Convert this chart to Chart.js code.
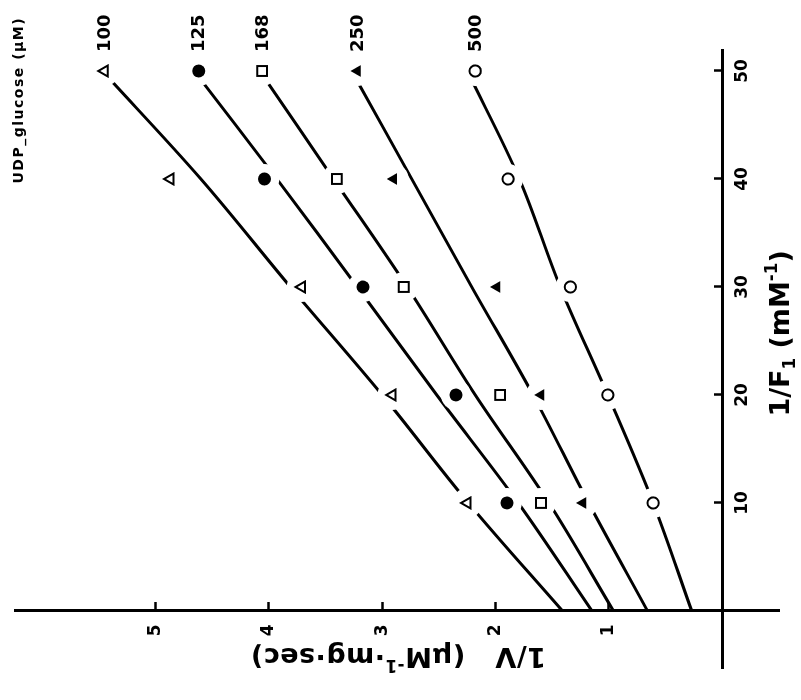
<!DOCTYPE html>
<html>
<head>
<meta charset="utf-8">
<script src="https://cdn.jsdelivr.net/npm/chart.js@4/dist/chart.umd.min.js"></script>
<style>
  html, body { margin: 0; padding: 0; background: #fff; overflow: hidden; width: 801px; height: 700px; }
  /* the plot is laid out upright and then turned a quarter turn counter-clockwise */
  #frame { position: absolute; left: 0; top: 0; width: 700px; height: 801px;
           transform-origin: 0 0; transform: translate(0, 700px) rotate(-90deg); }
  canvas { display: block; }
</style>
</head>
<body>
<div id="frame"><canvas id="c" width="700" height="801"></canvas></div>
<script>
// 1/F1 (mM^-1) at which the rates were measured
const invF = [10, 20, 30, 40, 50];
// 1/F1 values at which the drawn curves are read
const curveF = [0, 10, 20, 30, 40, 50];
// UDP-glucose concentrations (uM), one series each
const udpGlucose = ['100', '125', '168', '250', '500'];

// measured 1/V (uM^-1 . mg . sec)
const meas100 = [2.25, 2.91, 3.71, 4.87, 5.45];
const meas125 = [1.90, 2.35, 3.17, 4.04, 4.62];
const meas168 = [1.60, 1.96, 2.81, 3.40, 4.06];
const meas250 = [1.23, 1.60, 1.99, 2.90, 3.22];
const meas500 = [0.61, 1.01, 1.34, 1.89, 2.18];

// drawn curves, 1/V at curveF
const curve100 = [1.41, 2.24, 3.00, 3.81, 4.60, 5.47];
const curve125 = [1.15, 1.80, 2.52, 3.22, 3.93, 4.66];
const curve168 = [0.96, 1.53, 2.18, 2.78, 3.43, 4.08];
const curve250 = [0.66, 1.18, 1.67, 2.21, 2.74, 3.27];
const curve500 = [0.27, 0.61, 1.01, 1.43, 1.79, 2.25];

// axis ticks
const xTicks = [10, 20, 30, 40, 50];
const yTicks = [1, 2, 3, 4, 5];

const FONT = '"DejaVu Sans", "Liberation Sans", Arial, sans-serif';
const INK = '#000';

const measured = [meas100, meas125, meas168, meas250, meas500];
const curves = [curve100, curve125, curve168, curve250, curve500];
const markers = [
  { style: 'triangle', radius: 6.3, fill: '#fff', border: 2 },
  { style: 'circle',   radius: 6.5, fill: INK,    border: 0 },
  { style: 'rect',     radius: 7,   fill: '#fff', border: 2 },
  { style: 'triangle', radius: 6.8, fill: INK,    border: 0 },
  { style: 'circle',   radius: 5.6, fill: '#fff', border: 2 }
];

const pts = (xs, ys) => xs.map((x, i) => ({ x: x, y: ys[i] }));

const datasets = [];
curves.forEach((c) => {
  datasets.push({
    data: pts(curveF, c), showLine: true, borderColor: INK, borderWidth: 3,
    pointRadius: 0, tension: 0.35, order: 3
  });
});
// white clearance so each curve breaks around the plotted symbols
measured.forEach((m) => {
  datasets.push({
    data: pts(invF, m), showLine: false, pointRadius: 15, pointBorderWidth: 0,
    pointBackgroundColor: '#fff', order: 2
  });
});
measured.forEach((m, i) => {
  const mk = markers[i];
  datasets.push({
    data: pts(invF, m), showLine: false, pointStyle: mk.style, pointRadius: mk.radius,
    pointBackgroundColor: mk.fill, pointBorderColor: INK, pointBorderWidth: mk.border, order: 1
  });
});

// draws text runs with subscript / superscript parts
function richText(ctx, runs, size, spacing, x, y, angle) {
  const font = (s) => 'bold ' + s + 'px ' + FONT;
  ctx.save();
  ctx.letterSpacing = spacing + 'px';
  let total = 0;
  runs.forEach((r) => {
    ctx.font = font(r.k === 'n' ? size : size * 0.62);
    r.w = ctx.measureText(r.t).width;
    total += r.w;
  });
  ctx.translate(x, y);
  ctx.rotate(angle || 0);
  ctx.fillStyle = INK;
  ctx.textBaseline = 'alphabetic';
  let cx = -total / 2;
  runs.forEach((r) => {
    ctx.font = font(r.k === 'n' ? size : size * 0.62);
    const dy = r.k === 'sub' ? size * 0.22 : (r.k === 'sup' ? -size * 0.42 : 0);
    ctx.fillText(r.t, cx, size * 0.36 + dy);
    cx += r.w;
  });
  ctx.restore();
}

const annotations = {
  id: 'annotations',
  afterDatasetsDraw(chart) {
    const ctx = chart.ctx;
    const xs = chart.scales.x, ys = chart.scales.y;
    // concentration next to the last symbol of each series
    ctx.save();
    ctx.fillStyle = INK;
    ctx.font = 'bold 18px ' + FONT;
    ctx.textAlign = 'left';
    ctx.textBaseline = 'middle';
    udpGlucose.forEach((lab, i) => {
      const m = measured[i];
      ctx.fillText(lab, xs.getPixelForValue(invF[invF.length - 1]) + 19, ys.getPixelForValue(m[m.length - 1]) + 1);
    });
    ctx.font = 'bold 14px ' + FONT;
    ctx.letterSpacing = '1.5px';
    ctx.textAlign = 'center';
    ctx.fillText('UDP_glucose (\u03bcM)', xs.getPixelForValue(47.3), ys.getPixelForValue(6.2));
    ctx.restore();

    // axis titles
    richText(ctx, [{ t: '1/F', k: 'n' }, { t: '1', k: 'sub' }, { t: ' (mM', k: 'n' }, { t: '-1', k: 'sup' }, { t: ')', k: 'n' }],
      27, 0, xs.getPixelForValue(25.7), ys.getPixelForValue(-0.5), 0);
    richText(ctx, [{ t: '1/V   (\u03bcM', k: 'n' }, { t: '-1', k: 'sup' }, { t: '\u00b7mg\u00b7sec)', k: 'n' }],
      27, 0.5, xs.getPixelForValue(-4.35), ys.getPixelForValue(2.86), -Math.PI / 2);
  }
};

new Chart(document.getElementById('c'), {
  type: 'line',
  data: { datasets: datasets },
  plugins: [annotations],
  options: {
    responsive: false,
    devicePixelRatio: 1,
    animation: false,
    events: [],
    layout: { padding: { left: 32.9, right: 49.4, top: 10.5, bottom: 22 } },
    plugins: { legend: { display: false }, tooltip: { enabled: false } },
    scales: {
      x: {
        type: 'linear', min: -5.2, max: 52,
        position: { y: 0 },
        afterBuildTicks: (s) => { s.ticks = xTicks.map((v) => ({ value: v })); },
        border: { color: INK, width: 3 },
        grid: { drawOnChartArea: false, tickLength: -10, tickWidth: 2.5, color: INK },
        ticks: { color: INK, padding: 20, maxRotation: 0, font: { family: FONT, size: 17, weight: 'bold' } }
      },
      y: {
        type: 'linear', min: -0.5, max: 6.24,
        position: { x: 0 },
        afterBuildTicks: (s) => { s.ticks = yTicks.map((v) => ({ value: v })); },
        border: { color: INK, width: 3 },
        grid: { drawOnChartArea: false, tickLength: -10, tickWidth: 2.5, color: INK },
        ticks: { display: false }
      },
      // the 1/V tick numbers, set a little away from the axis line
      yLabels: {
        type: 'linear', min: -0.5, max: 6.24,
        position: { x: -1.25 },
        afterBuildTicks: (s) => { s.ticks = yTicks.map((v) => ({ value: v })); },
        border: { display: false },
        grid: { display: false, drawTicks: false },
        ticks: { padding: 0, color: INK, font: { family: FONT, size: 17, weight: 'bold' } }
      }
    }
  }
});
</script>
</body>
</html>
